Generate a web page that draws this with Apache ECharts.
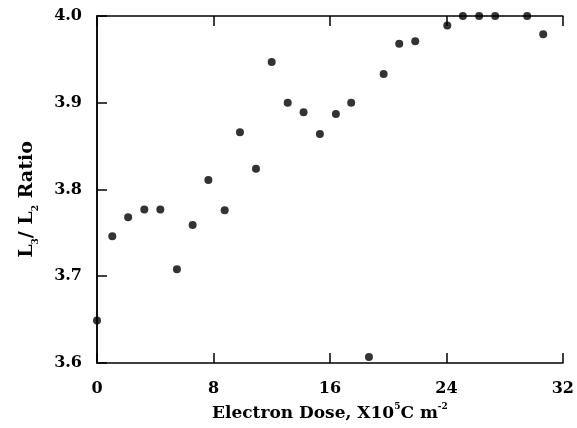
<!DOCTYPE html>
<html>
<head>
<meta charset="utf-8">
<script src="https://cdn.jsdelivr.net/npm/echarts@6/dist/echarts.min.js"></script>
<style>html,body{margin:0;padding:0;background:#fff}#c{width:577px;height:428px}</style>
</head>
<body>
<div id="c"></div>
<script>
const doseValues = [0, 1.05, 2.14, 3.25, 4.35, 5.49, 6.57, 7.65, 8.77, 9.82, 10.92, 12.0, 13.1, 14.19, 15.31, 16.41, 17.46, 18.68, 19.69, 20.76, 21.86, 24.06, 25.13, 26.25, 27.35, 29.55, 30.65];
const ratioValues = [3.649, 3.746, 3.768, 3.777, 3.777, 3.708, 3.759, 3.811, 3.776, 3.866, 3.824, 3.947, 3.900, 3.889, 3.864, 3.887, 3.900, 3.607, 3.933, 3.968, 3.971, 3.989, 4.0, 4.0, 4.0, 4.0, 3.979];
const xTicks = [0, 8, 16, 24, 32];
const yTicks = ['3.6', '3.7', '3.8', '3.9', '4.0'];

const FONT = '"DejaVu Serif", "Liberation Serif", serif';
const points = doseValues.map((x, i) => [x, ratioValues[i]]);
const chart = echarts.init(document.getElementById('c'));
const axisLineStyle = { color: '#000', width: 1.5 };
const labelStyle = { fontFamily: FONT, fontWeight: 'bold', fontSize: 16, color: '#000' };

chart.setOption({
  animation: false,
  backgroundColor: '#fff',
  grid: { left: 97, right: 14, top: 16, bottom: 65, containLabel: false },
  xAxis: [
    {
      type: 'value', min: 0, max: 32, interval: 8, position: 'bottom',
      axisLine: { lineStyle: axisLineStyle },
      axisTick: { inside: true, length: 10, lineStyle: { color: '#000', width: 1.5 } },
      splitLine: { show: false },
      axisLabel: Object.assign({ margin: 18, formatter: v => xTicks.includes(v) ? String(v) : '' }, labelStyle),
      name: '{t|Electron Dose, X10}{s|5}{t|C m}{s|-2}',
      nameLocation: 'middle', nameGap: 36,
      nameTextStyle: {
        rich: {
          t: { fontFamily: FONT, fontWeight: 'bold', fontSize: 17, color: '#000', lineHeight: 20, verticalAlign: 'bottom' },
          s: { fontFamily: FONT, fontWeight: 'bold', fontSize: 9, color: '#000', verticalAlign: 'top', lineHeight: 20, padding: [0, 0, 8, 0] }
        }
      }
    },
    {
      type: 'value', min: 0, max: 32, interval: 8, position: 'top',
      axisLine: { lineStyle: axisLineStyle },
      axisTick: { inside: true, length: 10, lineStyle: { color: '#000', width: 1.5 } },
      axisLabel: { show: false }, splitLine: { show: false }
    }
  ],
  yAxis: [
    {
      type: 'value', min: 3.6, max: 4.0, interval: 0.1, position: 'left',
      axisLine: { lineStyle: axisLineStyle },
      axisTick: { inside: true, length: 10, lineStyle: { color: '#000', width: 1.5 } },
      splitLine: { show: false },
      axisLabel: Object.assign({ margin: 15, formatter: v => yTicks[Math.round((v - 3.6) * 10)] }, labelStyle),
      name: '{t|L}{s|3}{t|/ L}{s|2}{t| Ratio}',
      nameLocation: 'middle', nameGap: 57, nameRotate: 90,
      nameTextStyle: {
        padding: [0, 20, 0, 0],
        rich: {
          t: { fontFamily: FONT, fontWeight: 'bold', fontSize: 19, color: '#000', lineHeight: 22, verticalAlign: 'top' },
          s: { fontFamily: FONT, fontWeight: 'bold', fontSize: 9, color: '#000', lineHeight: 22, verticalAlign: 'bottom' }
        }
      }
    },
    {
      type: 'value', min: 3.6, max: 4.0, interval: 0.1, position: 'right',
      axisLine: { lineStyle: axisLineStyle },
      axisTick: { show: false }, axisLabel: { show: false }, splitLine: { show: false }
    }
  ],
  series: [{
    type: 'scatter', xAxisIndex: 0, yAxisIndex: 0,
    data: points, symbol: 'circle', symbolSize: 8, clip: false,
    itemStyle: { color: '#000' }
  }]
});
</script>
</body>
</html>
